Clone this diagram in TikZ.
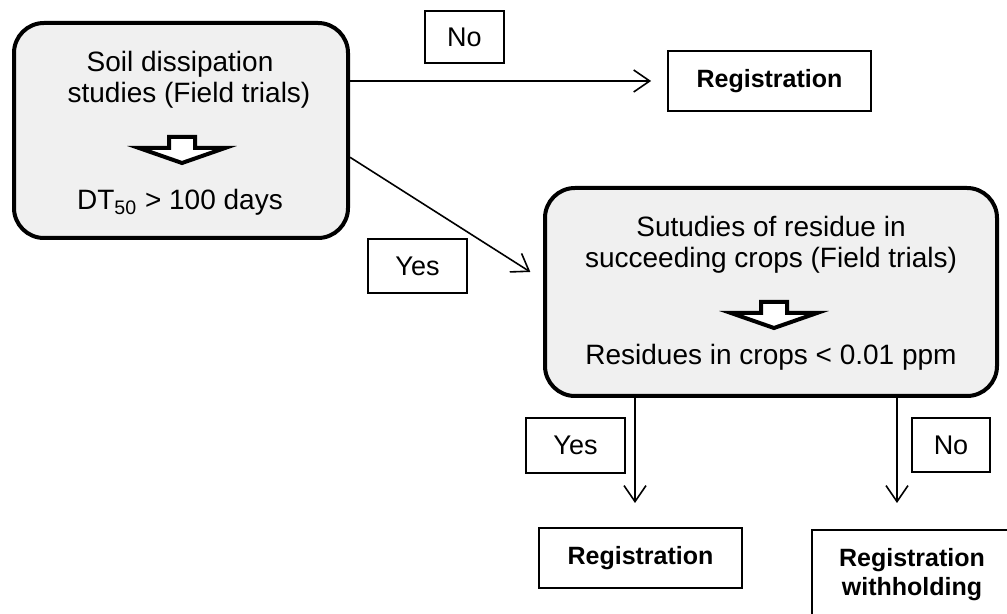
\documentclass[tikz,border=0pt]{standalone}
\usepackage{fontspec}
\setmainfont{Liberation Sans}
\usetikzlibrary{arrows.meta,positioning}

\tikzset{
  mainbox/.style={draw, line width=2pt, rounded corners=15pt, fill=gray!12, inner sep=0pt},
  tagbox/.style={draw, line width=0.9pt, inner sep=0pt, font=\fontsize{13.5}{15}\selectfont},
  regbox/.style={draw, line width=0.9pt, inner sep=0pt, align=center,
    font=\bfseries\fontsize{12.5}{14.5}\selectfont},
  line/.style={anchor=base, inner sep=0pt, font=\fontsize{14}{15.5}\selectfont},
  flow/.style={-{Straight Barb[length=8pt,width=11pt]}, line width=0.8pt},
  hollowdown/.pic={
    \draw[line width=2pt, fill=white]
      (-13,-11) -- (13,-11) -- (13,0) -- (43,0) -- (0,15) -- (-43,0) -- (-13,0) -- cycle;
  }
}

\begin{document}
\begin{tikzpicture}[x=0.5pt, y=-0.5pt]
  \useasboundingbox (0,0) rectangle (1007,614);

  % first study
  \node[mainbox, minimum width=167pt, minimum height=107.5pt] (soil) at (181,130.5) {};
  \node[line] (soilA) at (180,72) {Soil dissipation};
  \node[line] (soilB) at (189,103) {studies (Field trials)};
  \pic at (182,148) {hollowdown};
  \node[line] (dt) at (180,210) {DT\textsubscript{50} > 100 days};

  % second study
  \node[mainbox, minimum width=226pt, minimum height=104pt] (crop) at (771,292) {};
  \node[line] (cropA) at (771,237) {Sutudies of residue in};
  \node[line] (cropB) at (771,268) {succeeding crops (Field trials)};
  \pic at (774,313) {hollowdown};
  \node[line] (res) at (771,365) {Residues in crops < 0.01 ppm};

  % outcomes
  \node[regbox, minimum width=101.5pt, minimum height=30pt] (regTop) at (769.5,81) {Registration};
  \node[regbox, minimum width=101.5pt, minimum height=30pt] (regLow) at (640.5,558) {Registration};
  \node[regbox, minimum width=100pt, minimum height=45pt] (withhold) at (912,575)
    {Registration\\withholding};

  % answers
  \node[tagbox, minimum width=39.5pt, minimum height=26pt] (noTop) at (464.5,37) {No};
  \node[tagbox, minimum width=49.5pt, minimum height=27pt] (yesMid) at (417.5,266) {Yes};
  \node[tagbox, minimum width=49.5pt, minimum height=27.5pt] (yesLow) at (575.5,445.5) {Yes};
  \node[tagbox, minimum width=39pt, minimum height=27pt] (noLow) at (951,445) {No};

  \coordinate (yesEnd) at (635,503);
  \coordinate (noEnd) at (897,503);

  \draw[flow, shorten >=8pt] (soil.east |- regTop.west) -- (regTop.west);
  \draw[flow, shorten >=7.5pt] (soil.-9) -- (crop.177);
  \draw[flow] (crop.south -| yesEnd) -- (yesEnd);
  \draw[flow] (crop.south -| noEnd) -- (noEnd);
\end{tikzpicture}
\end{document}
